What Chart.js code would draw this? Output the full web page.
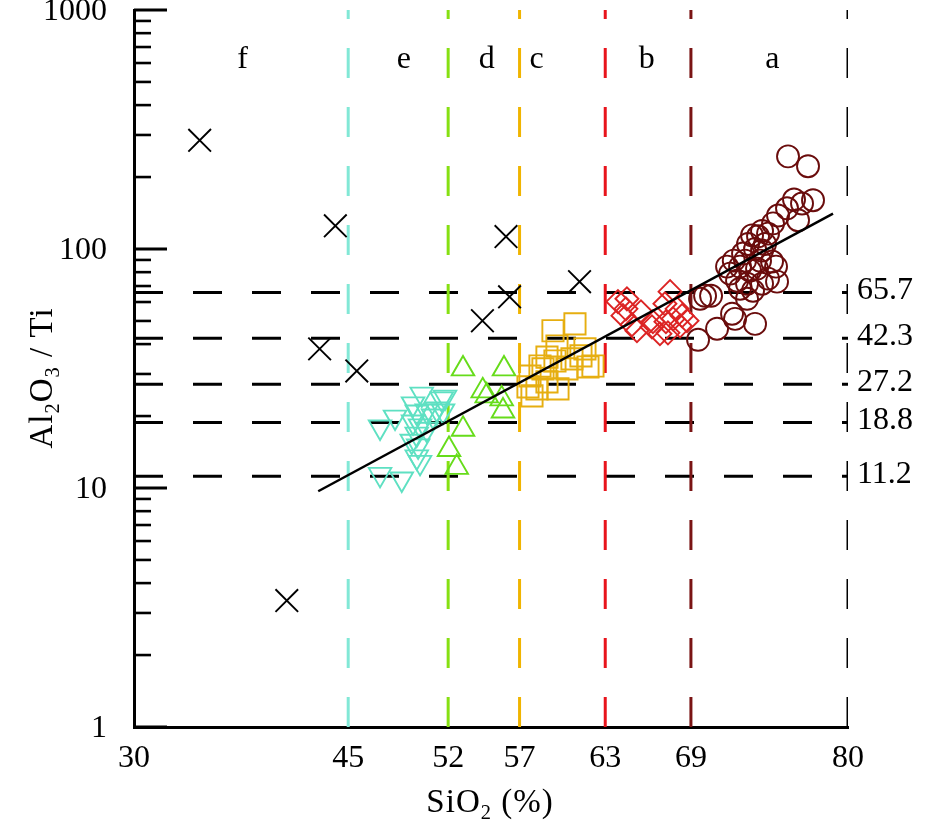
<!DOCTYPE html>
<html><head><meta charset="utf-8">
<script src="https://cdn.jsdelivr.net/npm/chart.js@4.4.0/dist/chart.umd.min.js"></script>
<style>html,body{margin:0;padding:0;background:#fff;}#wrap{width:945px;height:821px;}</style>
</head><body><div id="wrap"><canvas id="c" width="945" height="821"></canvas></div>
<script>
// ---- data ----
const xTicks = [30, 45, 52, 57, 63, 69, 80];
const yMajor = [1, 10, 100, 1000];
const boundaries = [45, 52, 57, 63, 69, 80];
const boundaryColors = ['#82e8d6', '#86e012', '#f0b400', '#e8141c', '#7a1414', '#000000'];
const hLevels = [65.7, 42.3, 27.2, 18.8, 11.2];
const fieldLetters = ['f', 'e', 'd', 'c', 'b', 'a'];
const fieldLetterX = [37.6, 48.9, 54.7, 58.2, 65.9, 74.7];
const fieldLetterY = 570;

const fX = [34.6, 44.1, 43.0, 45.6, 40.7, 54.4, 56.05, 56.3, 61.2];
const fY = [285, 125, 38.2, 30.9, 3.38, 50.1, 112.7, 63.1, 73];

const eX = [50.15, 51.55, 49.54, 48.28, 47.23, 49.8, 50.5, 50.94, 51.2, 49.54, 50.03, 50.5, 49.8, 49.45, 49.9, 49.8, 50.03, 47.23, 48.75, 51.64, 51.78];
const eY = [24.7, 23.6, 22.5, 19.8, 18.0, 20.8, 21.0, 20.0, 21.4, 18.9, 18.2, 17.6, 16.8, 15.7, 15.0, 13.5, 12.8, 11.4, 10.9, 21.0, 24.0];

const dX = [53.04, 55.91, 54.42, 55.75, 55.84, 54.7, 53.04, 52.06, 52.6];
const dY = [31.5, 31.5, 25.5, 23.6, 21.0, 24.3, 17.6, 14.5, 12.2];

const cX = [60.88, 59.34, 59.62, 61.58, 61.79, 60.67, 58.92, 58.43, 57.73, 57.59, 58.22, 59.69, 58.92, 57.87, 60.32, 59.48, 62.14, 61.30, 58.64];
const cY = [48.6, 45.5, 39.3, 38.2, 32.1, 34.7, 35.3, 32.4, 29.4, 26.5, 26.0, 26.0, 27.8, 24.3, 31.5, 34.0, 32.4, 35.7, 31.5];

const bX = [63.89, 64.52, 64.24, 65.50, 64.87, 65.22, 66.27, 66.83, 67.39, 67.54, 67.18, 68.03, 67.75, 68.38, 68.73, 67.25, 68.24, 66.34, 64.45];
const bY = [60.2, 61.9, 52.6, 54.6, 48.2, 45.5, 47.2, 44.2, 44.6, 66.3, 59.0, 56.2, 51.0, 52.6, 50.1, 49.6, 47.7, 49.6, 56.2];

const aX = [75.80, 77.20, 77.55, 76.22, 76.78, 75.73, 76.50, 75.10, 74.75, 73.98, 74.40, 73.70, 73.28, 73.00, 74.19, 73.49, 72.65, 73.84, 74.68, 72.0, 71.53, 72.44, 71.74, 73.14, 73.63, 74.96, 72.23, 72.93, 73.98, 75.03, 73.35, 74.40, 69.99, 69.64, 72.93, 71.88, 72.09, 70.83, 73.49, 69.50, 70.41, 72.44, 73.98, 72.79];
const aY = [244, 222, 160, 161, 155, 148, 132, 138, 128, 119, 116, 113, 114, 105, 105, 100, 95.7, 89.4, 88.6, 89.4, 84.4, 84.4, 78.9, 81.2, 82.8, 84.4, 73.7, 71.6, 71.6, 73.0, 66.9, 75.2, 63.7, 61.9, 61.9, 53.6, 51.0, 46.4, 48.6, 41.7, 63.7, 68.2, 98.5, 89.4];

const fitX = [42.9, 78.95];
const fitY = [9.69, 140.7];

const X_MIN = 30, X_MAX = 80, Y_MIN = 1, Y_MAX = 1000;

// ---- build ----
const FONT = "'Liberation Serif', 'Times New Roman', serif";
const pts = (xs, ys) => xs.map((x, i) => ({x, y: ys[i]}));

function markerSet(label, xs, ys, color, style, radius, rotation) {
  return {
    label, data: pts(xs, ys), pointStyle: style, pointRadius: radius, pointHoverRadius: radius,
    rotation: rotation || 0, borderColor: color, pointBorderColor: color,
    backgroundColor: 'rgba(0,0,0,0)', pointBackgroundColor: 'rgba(0,0,0,0)',
    pointBorderWidth: 1.9, showLine: false, order: 1
  };
}

const datasets = [];
boundaries.forEach((b, i) => {
  datasets.push({
    label: 'v' + b, data: [{x: b, y: Y_MIN}, {x: b, y: Y_MAX}], showLine: true,
    borderColor: boundaryColors[i], borderWidth: 3, borderDash: [30, 29], pointRadius: 0, order: 3
  });
});
hLevels.forEach(h => {
  datasets.push({
    label: 'h' + h, data: [{x: X_MIN, y: h}, {x: X_MAX, y: h}], showLine: true,
    borderColor: '#000', borderWidth: 3, borderDash: [29, 30], pointRadius: 0, order: 3
  });
});
datasets.push(markerSet('a', aX, aY, '#6a0c0c', 'circle', 11));
datasets.push(markerSet('b', bX, bY, '#dc2424', 'rectRot', 11.5));
datasets.push(markerSet('c', cX, cY, '#e6ae10', 'rect', 15));
datasets.push(markerSet('d', dX, dY, '#66dc1a', 'triangle', 13));
datasets.push(markerSet('e', eX, eY, '#5ee0c2', 'triangle', 13, 180));
datasets.push(markerSet('f', fX, fY, '#000000', 'crossRot', 16));
datasets.push({
  label: 'fit', data: pts(fitX, fitY), showLine: true, borderColor: '#000', borderWidth: 2.5,
  pointRadius: 0, order: 0
});

function drawSegs(ctx, segs, size) {
  ctx.letterSpacing = '1px';
  let total = 0;
  const widths = segs.map(([t, sub]) => {
    ctx.font = (sub ? size * 0.62 : size) + 'px ' + FONT;
    const w = ctx.measureText(t).width; total += w; return w;
  });
  let x = -total / 2;
  segs.forEach(([t, sub], i) => {
    ctx.font = (sub ? size * 0.62 : size) + 'px ' + FONT;
    ctx.fillText(t, x, sub ? size * 0.22 : 0);
    x += widths[i];
  });
  ctx.letterSpacing = '0px';
}

const decor = {
  id: 'decor',
  afterDraw(chart) {
    const ctx = chart.ctx, xs = chart.scales.x, ys = chart.scales.y;
    const left = chart.chartArea.left;
    ctx.save();
    ctx.strokeStyle = '#000'; ctx.fillStyle = '#000';
    for (let e = 0; e < 3; e++) {
      for (let m = 1; m <= 9; m++) {
        const v = m * Math.pow(10, e);
        const py = ys.getPixelForValue(v);
        ctx.lineWidth = m === 1 ? 3 : 2.6;
        ctx.beginPath(); ctx.moveTo(left, py); ctx.lineTo(left + (m === 1 ? 33 : 17), py); ctx.stroke();
      }
    }
    const pyTop = ys.getPixelForValue(Y_MAX);
    ctx.lineWidth = 3; ctx.beginPath(); ctx.moveTo(left, pyTop); ctx.lineTo(left + 33, pyTop); ctx.stroke();
    ctx.font = '32px ' + FONT; ctx.textAlign = 'center'; ctx.textBaseline = 'alphabetic';
    fieldLetters.forEach((t, i) => {
      ctx.fillText(t, xs.getPixelForValue(fieldLetterX[i]), ys.getPixelForValue(fieldLetterY));
    });
    ctx.textAlign = 'left'; ctx.textBaseline = 'middle';
    hLevels.forEach(h => {
      ctx.fillText(h.toFixed(1), xs.getPixelForValue(X_MAX) + 9, ys.getPixelForValue(h) - 2);
    });
    ctx.textBaseline = 'alphabetic';
    ctx.save();
    ctx.translate(490, 812);
    drawSegs(ctx, [['SiO', false], ['2', true], [' (%)', false]], 33);
    ctx.restore();
    ctx.save();
    ctx.translate(52, 378); ctx.rotate(-Math.PI / 2);
    drawSegs(ctx, [['Al', false], ['2', true], ['O', false], ['3', true], [' / Ti', false]], 33);
    ctx.restore();
    ctx.restore();
  }
};

new Chart(document.getElementById('c'), {
  type: 'scatter',
  data: {datasets},
  options: {
    responsive: false, animation: false, devicePixelRatio: 1,
    layout: {autoPadding: false, padding: {top: 10, right: 97, left: 0, bottom: 0}},
    plugins: {legend: {display: false}, tooltip: {enabled: false}},
    scales: {
      x: {
        type: 'linear', min: X_MIN, max: X_MAX,
        afterBuildTicks: s => { s.ticks = xTicks.map(v => ({value: v})); },
        afterFit: s => { s.height = 94; s.paddingLeft = 0; s.paddingRight = 0; },
        grid: {display: false, drawTicks: false},
        border: {display: true, color: '#000', width: 3},
        ticks: {autoSkip: false, maxRotation: 0, padding: 12, color: '#000', font: {family: FONT, size: 32}}
      },
      y: {
        type: 'logarithmic', min: Y_MIN, max: Y_MAX,
        afterFit: s => { s.width = 134; s.paddingTop = 0; s.paddingBottom = 0; },
        grid: {display: false, drawTicks: false},
        border: {display: true, color: '#000', width: 3},
        ticks: {autoSkip: false, padding: 27, labelOffset: 2, color: '#000', font: {family: FONT, size: 32, lineHeight: 0.5},
          callback: v => yMajor.includes(v) ? String(v) : ''}
      }
    }
  },
  plugins: [decor]
});
</script></body></html>
